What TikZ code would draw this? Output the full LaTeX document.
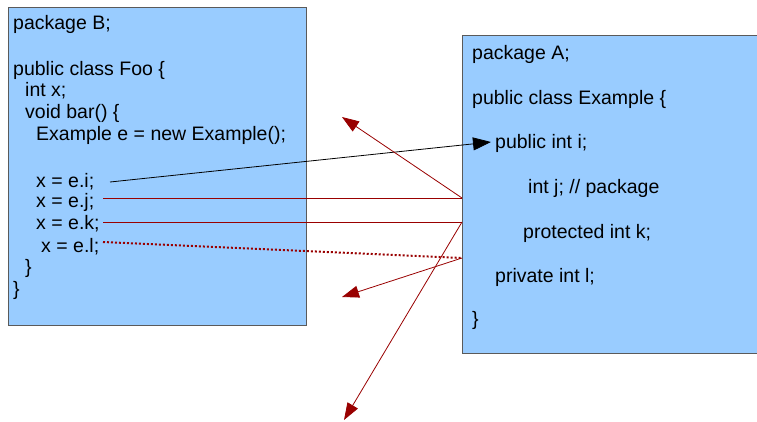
\documentclass[tikz,border=0pt]{standalone}
\usepackage{fontspec}
\setmainfont{Liberation Sans}
\usetikzlibrary{arrows.meta}
\definecolor{boxblue}{HTML}{99CCFF}
\definecolor{boxedge}{HTML}{5A5A5A}
\definecolor{darkred}{HTML}{990000}
\tikzset{
  codebox/.style={draw=boxedge, line width=1pt, fill=boxblue, anchor=north west, inner sep=0pt},
  code/.style={anchor=base west, inner sep=0pt, font=\fontsize{19.5}{22}\selectfont},
  blackarrow/.style={draw=black, line width=0.8pt, -{Triangle[length=18pt,width=13pt]}},
  redline/.style={draw=darkred, line width=0.8pt},
  redarrow/.style={draw=darkred, line width=0.8pt, -{Triangle[length=17pt,width=12pt]}},
  reddots/.style={draw=darkred, line width=2pt, dotted},
}
\begin{document}
\begin{tikzpicture}[x=1pt,y=-1pt]
\useasboundingbox (0,0) rectangle (757,421);
\clip (0,0) rectangle (757,421);
\fill[white] (0,0) rectangle (757,421);
% boxes
\node[codebox, minimum width=298pt, minimum height=318pt] (boxB) at (8,7) {};
\node[codebox, minimum width=320pt, minimum height=318pt] (boxA) at (462,35) {};
% left box text
\node[code] (pkgB) at (13,29.5) {package B;};
\node[code] (foo) at (13,75) {public class Foo \{};
\node[code] (intx) at (25,96) {int x;};
\node[code] (bar) at (25,118) {void bar() \{};
\node[code] (newe) at (36,140) {Example e = new Example();};
\node[code] (li) at (36,187) {x = e.i;};
\node[code] (lj) at (36,207) {x = e.j;};
\node[code] (lk) at (36,229) {x = e.k;};
\node[code] (ll) at (41,252) {x = e.l;};
\node[code] (cb1) at (25,273) {\}};
\node[code] (cb2) at (13,295) {\}};
% right box text
\node[code] (pkgA) at (472,59) {package A;};
\node[code] (ex) at (472,104) {public class Example \{};
\node[code] (fi) at (495,148) {public int i;};
\node[code] (fj) at (528,193) {int j; // package};
\node[code] (fk) at (523,238) {protected int k;};
\node[code] (fl) at (495,282) {private int l;};
\node[code] (cbA) at (472,325) {\}};
% connector points
\coordinate (si) at (110,182);
\coordinate (ti) at (491,142);
\coordinate (sj) at (103,198);
\coordinate (jj) at (462,198);
\coordinate (sk) at (103,222);
\coordinate (jk) at (462,222);
\coordinate (sl) at (103,242);
\coordinate (jl) at (462,258);
\coordinate (tj) at (342,117);
\coordinate (tk) at (344,420);
\coordinate (tl) at (342,297);
% connectors
\draw[blackarrow] (si) -- (ti);
\draw[redline] (sj) -- (jj);
\draw[redline] (sk) -- (jk);
\draw[reddots] (sl) -- (jl);
\draw[redarrow] (jj) -- (tj);
\draw[redarrow] (jk) -- (tk);
\draw[redarrow] (jl) -- (tl);
\end{tikzpicture}
\end{document}
